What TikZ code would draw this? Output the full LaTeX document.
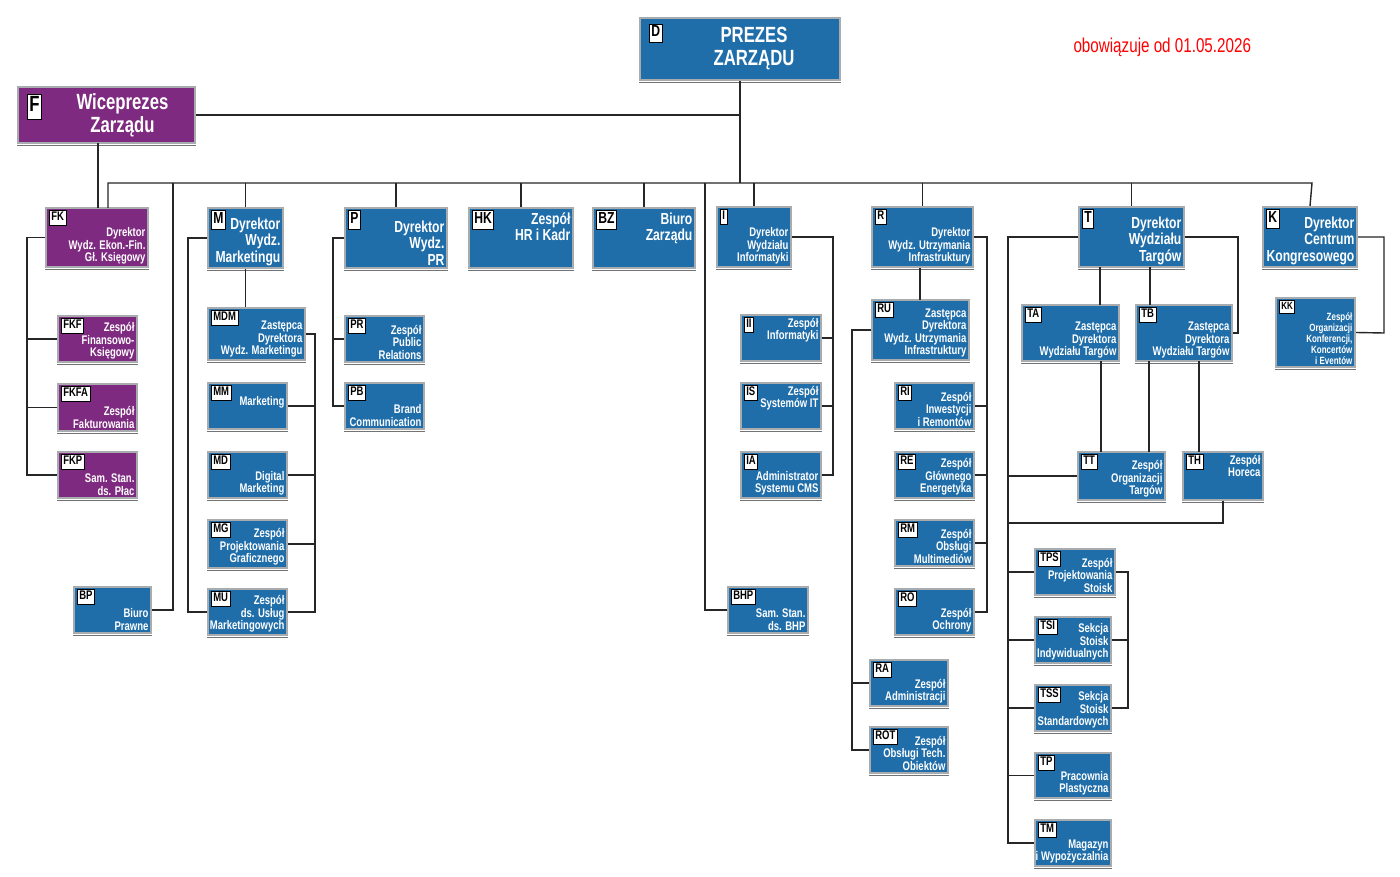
\documentclass[tikz,border=0pt]{standalone}
\usepackage{fontspec}
\setmainfont{Liberation Sans}[FakeStretch=0.76]
\definecolor{blu}{HTML}{1F6EAA}
\definecolor{pur}{HTML}{7E2A80}
\definecolor{frm}{HTML}{A8ACAE}
\tikzset{x=1pt,y=-1pt,
 ln/.style={line width=1.4pt,black!85},
}
\newcommand\lab[3]{\node[fill=white,draw=black,line width=0.7pt,inner xsep=2pt,inner ysep=1pt,anchor=north west] at #1 {\color{black}#2\strut #3};}
\newcommand\ob[9]{%
 \node[fill=#8,draw=frm,line width=2.2pt,minimum width={#4pt-#2pt},minimum height={#5pt-#3pt},inner sep=0pt] (#1) at ({(#2+#4)/2},{(#3+#5)/2}) {};
 \draw[black!55,line width=1.6pt] (#2-1,#5+2.5) -- (#4+1,#5+2.5);
 \lab{([shift={(4,3.5)}]#1.north west)}{#9}{#6}
 \node[anchor=south east,align=right,text=white,inner sep=0pt,font=#9] at ([shift={(-3.5,-3.5)}]#1.south east) {#7};
}
\newcommand\fa{\fontsize{12.5}{12.6}\selectfont\bfseries}
\newcommand\fb{\fontsize{16}{16.5}\selectfont\bfseries}
\newcommand\fc{\fontsize{22}{23}\selectfont\bfseries}
\begin{document}
\begin{tikzpicture}
\fill[white] (0,0) rectangle (1400,877);
\node[text=red,font=\fontsize{20}{22}\selectfont,anchor=west] (date) at (1070,47) {obowiązuje od 01.05.2026};
% top
\node[fill=blu,draw=frm,line width=2.2pt,minimum width=200pt,minimum height=62pt] (D) at (740,49) {};
\draw[black!55,line width=1.6pt] (639,82.5) -- (841,82.5);
\lab{([shift={(10,7)}]D.north west)}{\fb}{D}
\node[text=white,font=\fc,align=center] at ([xshift=14]D.center) {PREZES\\ZARZĄDU};
\node[fill=pur,draw=frm,line width=2.2pt,minimum width=177pt,minimum height=56pt] (F) at (106.5,115) {};
\draw[black!55,line width=1.6pt] (17,145.5) -- (196,145.5);
\lab{([shift={(10,8)}]F.north west)}{\fc}{F}
\node[text=white,font=\fc,align=center] at ([xshift=16]F.center) {Wiceprezes\\Zarządu};
% level boxes
\ob{FK}{46}{208}{148}{267}{FK}{Dyrektor\\Wydz. Ekon.-Fin.\\Gł. Księgowy}{pur}{\fa}
\ob{FKF}{58}{316}{137}{362}{FKF}{Zespół\\Finansowo-\\Księgowy}{pur}{\fa}
\ob{FKFA}{58}{384}{137}{431}{FKFA}{Zespół\\Fakturowania}{pur}{\fa}
\ob{FKP}{58}{452}{137}{498}{FKP}{Sam. Stan.\\ds. Płac}{pur}{\fa}
\ob{BP}{74}{587}{151}{633}{BP}{Biuro\\Prawne}{blu}{\fa}
\ob{M}{208}{208}{283}{268}{M}{Dyrektor\\Wydz.\\Marketingu}{blu}{\fb}
\ob{MDM}{208}{308}{305}{360}{MDM}{Zastępca\\Dyrektora\\Wydz. Marketingu}{blu}{\fa}
\ob{MM}{208}{383}{287}{429}{MM}{Marketing\\[8pt]}{blu}{\fa}
\ob{MD}{208}{452}{287}{498}{MD}{Digital\\Marketing}{blu}{\fa}
\ob{MG}{208}{520}{287}{568}{MG}{Zespół\\Projektowania\\Graficznego}{blu}{\fa}
\ob{MU}{208}{589}{287}{635}{MU}{Zespół\\ds. Usług\\Marketingowych}{blu}{\fa}
\ob{P}{345}{208}{447}{268}{P}{Dyrektor\\Wydz.\\PR}{blu}{\fb}
\ob{PR}{345}{316}{424}{362}{PR}{Zespół\\Public\\Relations}{blu}{\fa}
\ob{PB}{345}{383}{424}{429}{PB}{Brand\\Communication}{blu}{\fa}
\ob{HK}{469}{208}{573}{268}{HK}{Zespół\\HR i Kadr\\[8pt]}{blu}{\fb}
\ob{BZ}{593}{208}{695}{268}{BZ}{Biuro\\Zarządu\\[8pt]}{blu}{\fb}
\ob{I}{717}{207}{791}{267}{I}{Dyrektor\\Wydziału\\Informatyki}{blu}{\fa}
\ob{II}{741}{315}{821}{361}{II}{Zespół\\Informatyki\\[6pt]}{blu}{\fa}
\ob{IS}{741}{383}{821}{429}{IS}{Zespół\\Systemów IT\\[6pt]}{blu}{\fa}
\ob{IA}{741}{452}{821}{498}{IA}{Administrator\\Systemu CMS}{blu}{\fa}
\ob{BHP}{728}{587}{808}{633}{BHP}{Sam. Stan.\\ds. BHP}{blu}{\fa}
\ob{R}{872}{207}{973}{267}{R}{Dyrektor\\Wydz. Utrzymania\\Infrastruktury}{blu}{\fa}
\ob{RU}{872}{300}{969}{360}{RU}{Zastępca\\Dyrektora\\Wydz. Utrzymania\\Infrastruktury}{blu}{\fa}
\ob{RI}{895}{383}{974}{429}{RI}{Zespół\\Inwestycji\\i Remontów}{blu}{\fa}
\ob{RE}{895}{452}{974}{498}{RE}{Zespół\\Głównego\\Energetyka}{blu}{\fa}
\ob{RM}{895}{520}{974}{566}{RM}{Zespół\\Obsługi\\Multimediów}{blu}{\fa}
\ob{RO}{895}{589}{974}{635}{RO}{Zespół\\Ochrony}{blu}{\fa}
\ob{RA}{870}{660}{948}{706}{RA}{Zespół\\Administracji}{blu}{\fa}
\ob{ROT}{870}{727}{948}{773}{ROT}{Zespół\\Obsługi Tech.\\Obiektów}{blu}{\fa}
\ob{T}{1079}{207}{1184}{267}{T}{Dyrektor\\Wydziału\\Targów}{blu}{\fb}
\ob{TA}{1022}{305}{1119}{361}{TA}{Zastępca\\Dyrektora\\Wydziału Targów}{blu}{\fa}
\ob{TB}{1136}{305}{1232}{361}{TB}{Zastępca\\Dyrektora\\Wydziału Targów}{blu}{\fa}
\ob{TT}{1078}{452}{1165}{500}{TT}{Zespół\\Organizacji\\Targów}{blu}{\fa}
\ob{TH}{1183}{452}{1263}{500}{TH}{Zespół\\Horeca\\[8pt]}{blu}{\fa}
\ob{TPS}{1035}{549}{1115}{595}{TPS}{Zespół\\Projektowania\\Stoisk}{blu}{\fa}
\ob{TSI}{1035}{617}{1111}{663}{TSI}{Sekcja\\Stoisk\\Indywidualnych}{blu}{\fa}
\ob{TSS}{1035}{685}{1111}{731}{TSS}{Sekcja\\Stoisk\\Standardowych}{blu}{\fa}
\ob{TP}{1035}{753}{1111}{798}{TP}{Pracownia\\Plastyczna}{blu}{\fa}
\ob{TM}{1035}{820}{1111}{866}{TM}{Magazyn\\i Wypożyczalnia}{blu}{\fa}
\ob{K}{1263}{207}{1357}{267}{K}{Dyrektor\\Centrum\\Kongresowego}{blu}{\fb}
\ob{KK}{1276}{298}{1355}{367}{KK}{Zespół\\Organizacji\\Konferencji,\\Koncertów\\i Eventów}{blu}{\fontsize{10.5}{11}\selectfont\bfseries}
% connectors
\begin{scope}[ln]
\draw (D.south) -- (740,183);
\draw (F.east) -- (740,115);
\draw (98,143) -- (98,208);
\draw (108,208) -- (108,183) -- (1312,183) -- (K.north);
\foreach \n in {M,P,HK,BZ,I,R,T} \draw (\n.north) -- (\n.north |- 0,183);
\draw (173,183) -- (173,610) -- (BP.east);
\draw (705,183) -- (705,610) -- (BHP.west);
\draw (FK.west) -- (27,237.5) -- (27,475) -- (FKP.west);
\draw (27,339) -- (FKF.west); \draw (27,407.5) -- (FKFA.west);
\draw (M.south) -- (MDM.north -| M.south);
\draw (M.west) -- (188,238) -- (188,612) -- (MU.west);
\draw (MDM.east) -- (315,334) -- (315,612) -- (MU.east);
\foreach \n in {MM,MD,MG} \draw (\n.east) -- (\n.east -| 315,0);
\draw (P.west) -- (333,238) -- (333,406) -- (PB.west);
\draw (333,339) -- (PR.west);
\draw (I.east) -- (833,237) -- (833,475) -- (IA.east);
\draw (II.east) -- (833,338); \draw (IS.east) -- (833,406);
\draw (R.east) -- (987,237) -- (987,612) -- (RO.east);
\foreach \n in {RI,RE,RM} \draw (\n.east) -- (\n.east -| 987,0);
\draw (R.south -| 920,0) -- (920,300);
\draw (RU.west) -- (852,330) -- (852,750) -- (ROT.west);
\draw (852,683) -- (RA.west);
\draw (T.west) -- (1008,237) -- (1008,843) -- (TM.west);
\foreach \n in {TT,TPS,TSI,TSS,TP} \draw (\n.west) -- (\n.west -| 1008,0);
\draw (TH.south) -- (1223,523) -- (1008,523);
\draw (T.east) -- (1238,237) -- (1238,333) -- (TB.east);
\draw (1100,267) -- (1100,305); \draw (1150,267) -- (1150,305);
\draw (1101,361) -- (1101,452); \draw (1149,361) -- (1149,452);
\draw (1199,361) -- (1199,452);
\draw (TPS.east) -- (1128,572) -- (1128,708) -- (TSS.east);
\draw (TSI.east) -- (1128,640);
\draw (K.east) -- (1384,237) -- (1384,333) -- (KK.east);
\end{scope}
\end{tikzpicture}
\end{document}
